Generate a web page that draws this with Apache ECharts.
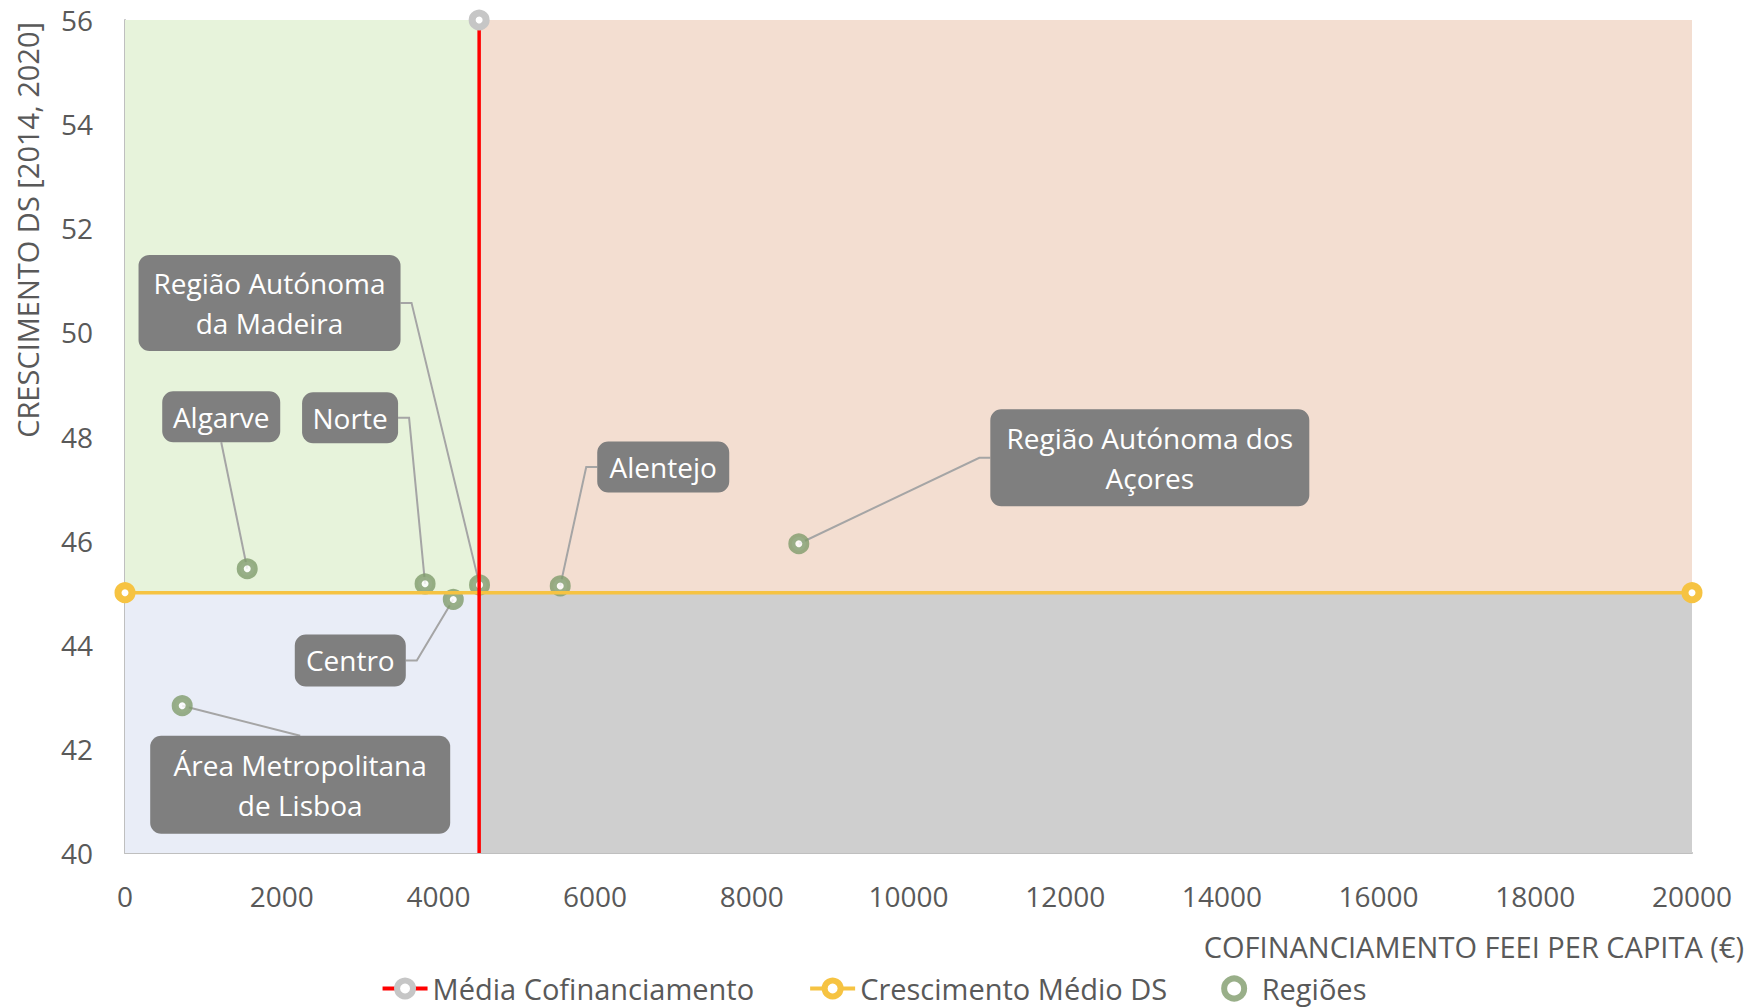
<!DOCTYPE html>
<html lang="pt">
<head>
<meta charset="utf-8">
<title>Cofinanciamento FEEI per capita vs Crescimento DS</title>
<script src="https://cdn.jsdelivr.net/npm/echarts@6/dist/echarts.min.js"></script>
<style>
  html, body { margin: 0; padding: 0; background: #ffffff; }
  #chart { width: 1747px; height: 1007px; }
</style>
</head>
<body>
<div id="chart"></div>
<script>
// Regiões NUTS II: cofinanciamento FEEI per capita (€) e crescimento DS [2014, 2020]
const regioes = [
  'Algarve',
  'Norte',
  'Região Autónoma da Madeira',
  'Centro',
  'Alentejo',
  'Região Autónoma dos Açores',
  'Área Metropolitana de Lisboa'
];
const cofinanciamento = [1560, 3830, 4525, 4190, 5555, 8600, 730];
const crescimento = [45.46, 45.17, 45.15, 44.87, 45.13, 45.94, 42.83];

// Médias de referência que dividem o gráfico em quadrantes
const mediaCofinanciamento = 4520;
const crescimentoMedio = 45;

// Escalas dos eixos
const eixoX = { min: 0, max: 20000, step: 2000 };
const eixoY = { min: 40, max: 56, step: 2 };

const FONT = '"Open Sans", "Noto Sans", sans-serif';
const TXT = '#595959';
const VERDE = '#7F9B6C';
const AMARELO = '#F6C342';
const CINZA_MARCA = '#C6C6C6';

// Caixas de rótulo: texto mostrado, deslocamento do centro face ao ponto (px),
// dimensões (px) e lado da caixa onde liga a linha de chamada
const callouts = {
  'Algarve': { text: 'Algarve', dx: -26, dy: -152, w: 118, h: 51, side: 'bottom' },
  'Norte': { text: 'Norte', dx: -75, dy: -166, w: 96, h: 51, side: 'right' },
  'Região Autónoma da Madeira': { text: 'Região Autónoma\nda Madeira', dx: -210, dy: -282, w: 262, h: 96, side: 'right' },
  'Centro': { text: 'Centro', dx: -103, dy: 61, w: 111, h: 52, side: 'right' },
  'Alentejo': { text: 'Alentejo', dx: 103, dy: -119, w: 132, h: 51, side: 'left' },
  'Região Autónoma dos Açores': { text: 'Região Autónoma dos\nAçores', dx: 351, dy: -86, w: 319, h: 97, side: 'left' },
  'Área Metropolitana de Lisboa': { text: 'Área Metropolitana\nde Lisboa', dx: 118, dy: 79, w: 300, h: 98, side: 'top' }
};

const pontos = regioes.map((nome, i) => ({ name: nome, value: [cofinanciamento[i], crescimento[i]] }));

const chart = echarts.init(document.getElementById('chart'), null, { renderer: 'svg' });

function renderCallout(params, api) {
  const nome = regioes[params.dataIndex];
  const c = callouts[nome];
  const p = api.coord([api.value(0), api.value(1)]);
  const cx = p[0] + c.dx;
  const cy = p[1] + c.dy;
  const x0 = cx - c.w / 2;
  const y0 = cy - c.h / 2;
  const elbow = 11;
  let anchor, bend;
  if (c.side === 'right') {
    anchor = [x0 + c.w, cy]; bend = [anchor[0] + elbow, cy];
  } else if (c.side === 'left') {
    anchor = [x0, cy]; bend = [anchor[0] - elbow, cy];
  } else if (c.side === 'top') {
    anchor = [cx, y0]; bend = anchor;
  } else {
    anchor = [cx, y0 + c.h]; bend = anchor;
  }
  return {
    type: 'group',
    children: [
      {
        type: 'polyline',
        shape: { points: [p, bend, anchor] },
        style: { stroke: '#A5A5A5', lineWidth: 2, fill: null }
      },
      {
        type: 'rect',
        shape: { x: x0, y: y0, width: c.w, height: c.h, r: 11 },
        style: { fill: '#7F7F7F' }
      },
      {
        type: 'text',
        style: {
          text: c.text,
          x: cx,
          y: cy,
          align: 'center',
          verticalAlign: 'middle',
          fill: '#FFFFFF',
          fontFamily: FONT,
          fontSize: 28,
          lineHeight: 40
        }
      }
    ]
  };
}

const option = {
  animation: false,
  textStyle: { fontFamily: FONT },
  grid: { left: 125, right: 55, top: 20, bottom: 154, containLabel: false },
  xAxis: {
    type: 'value',
    min: eixoX.min,
    max: eixoX.max,
    interval: eixoX.step,
    axisLine: { show: true, onZero: false, lineStyle: { color: '#BFBFBF', width: 2 } },
    axisTick: { show: false },
    splitLine: { show: false },
    axisLabel: { color: TXT, fontSize: 28, margin: 29, fontFamily: FONT, formatter: (v) => String(v) }
  },
  yAxis: {
    type: 'value',
    min: eixoY.min,
    max: eixoY.max,
    interval: eixoY.step,
    axisLine: { show: true, onZero: false, lineStyle: { color: '#BFBFBF', width: 2 } },
    axisTick: { show: false },
    splitLine: { show: false },
    axisLabel: { color: TXT, fontSize: 28, margin: 32, fontFamily: FONT, formatter: (v) => String(v) }
  },
  legend: {
    data: [
      { name: 'Média Cofinanciamento', itemStyle: { borderWidth: 6, borderColor: CINZA_MARCA, color: '#FFFFFF' }, lineStyle: { width: 4, color: '#FF0000' } },
      { name: 'Crescimento Médio DS', itemStyle: { borderWidth: 6, borderColor: AMARELO, color: '#FFFFFF' }, lineStyle: { width: 4, color: AMARELO } },
      { name: 'Regiões', itemStyle: { borderWidth: 6, borderColor: VERDE, color: '#FFFFFF' } }
    ],
    left: 'center',
    top: 969,
    itemWidth: 45,
    itemHeight: 20,
    itemGap: 54,
    textStyle: { color: TXT, fontSize: 29, fontFamily: FONT }
  },
  graphic: [
    {
      type: 'text',
      x: 27,
      y: 22,
      rotation: Math.PI / 2,
      style: {
        text: 'CRESCIMENTO DS [2014, 2020]',
        align: 'right',
        verticalAlign: 'middle',
        fill: TXT,
        fontFamily: FONT,
        fontSize: 29
      }
    },
    {
      type: 'text',
      x: 1744,
      y: 946,
      style: {
        text: 'COFINANCIAMENTO FEEI PER CAPITA (€)',
        align: 'right',
        verticalAlign: 'middle',
        fill: TXT,
        fontFamily: FONT,
        fontSize: 29
      }
    }
  ],
  series: [
    {
      // Quadrantes definidos pelas duas médias
      name: 'Quadrantes',
      type: 'line',
      data: [],
      silent: true,
      markArea: {
        silent: true,
        data: [
          [{ xAxis: eixoX.min, yAxis: crescimentoMedio, itemStyle: { color: '#E7F3DB' } }, { xAxis: mediaCofinanciamento, yAxis: eixoY.max }],
          [{ xAxis: mediaCofinanciamento, yAxis: crescimentoMedio, itemStyle: { color: '#F3DED1' } }, { xAxis: eixoX.max, yAxis: eixoY.max }],
          [{ xAxis: eixoX.min, yAxis: eixoY.min, itemStyle: { color: '#E9EDF7' } }, { xAxis: mediaCofinanciamento, yAxis: crescimentoMedio }],
          [{ xAxis: mediaCofinanciamento, yAxis: eixoY.min, itemStyle: { color: '#CFCFCF' } }, { xAxis: eixoX.max, yAxis: crescimentoMedio }]
        ]
      }
    },
    {
      name: 'Crescimento Médio DS',
      type: 'line',
      clip: false,
      data: [[eixoX.min, crescimentoMedio], [eixoX.max, crescimentoMedio]],
      symbol: 'circle',
      symbolSize: 14,
      lineStyle: { color: AMARELO, width: 3.5 },
      itemStyle: { color: '#FFFFFF', borderColor: AMARELO, borderWidth: 7 }
    },
    {
      name: 'Média Cofinanciamento',
      type: 'line',
      clip: false,
      data: [
        { value: [mediaCofinanciamento, eixoY.min], symbol: 'none' },
        { value: [mediaCofinanciamento, eixoY.max] }
      ],
      symbol: 'circle',
      symbolSize: 14,
      lineStyle: { color: '#FF0000', width: 3.5 },
      itemStyle: { color: '#FFFFFF', borderColor: CINZA_MARCA, borderWidth: 7 }
    },
    {
      name: 'Rótulos',
      type: 'custom',
      silent: true,
      clip: false,
      data: regioes.map((n, i) => [cofinanciamento[i], crescimento[i]]),
      renderItem: renderCallout
    },
    {
      name: 'Regiões',
      type: 'scatter',
      data: pontos,
      symbol: 'circle',
      symbolSize: 14,
      itemStyle: { color: '#FFFFFF', borderColor: VERDE, borderWidth: 7 }
    }
  ]
};

chart.setOption(option);
</script>
</body>
</html>
